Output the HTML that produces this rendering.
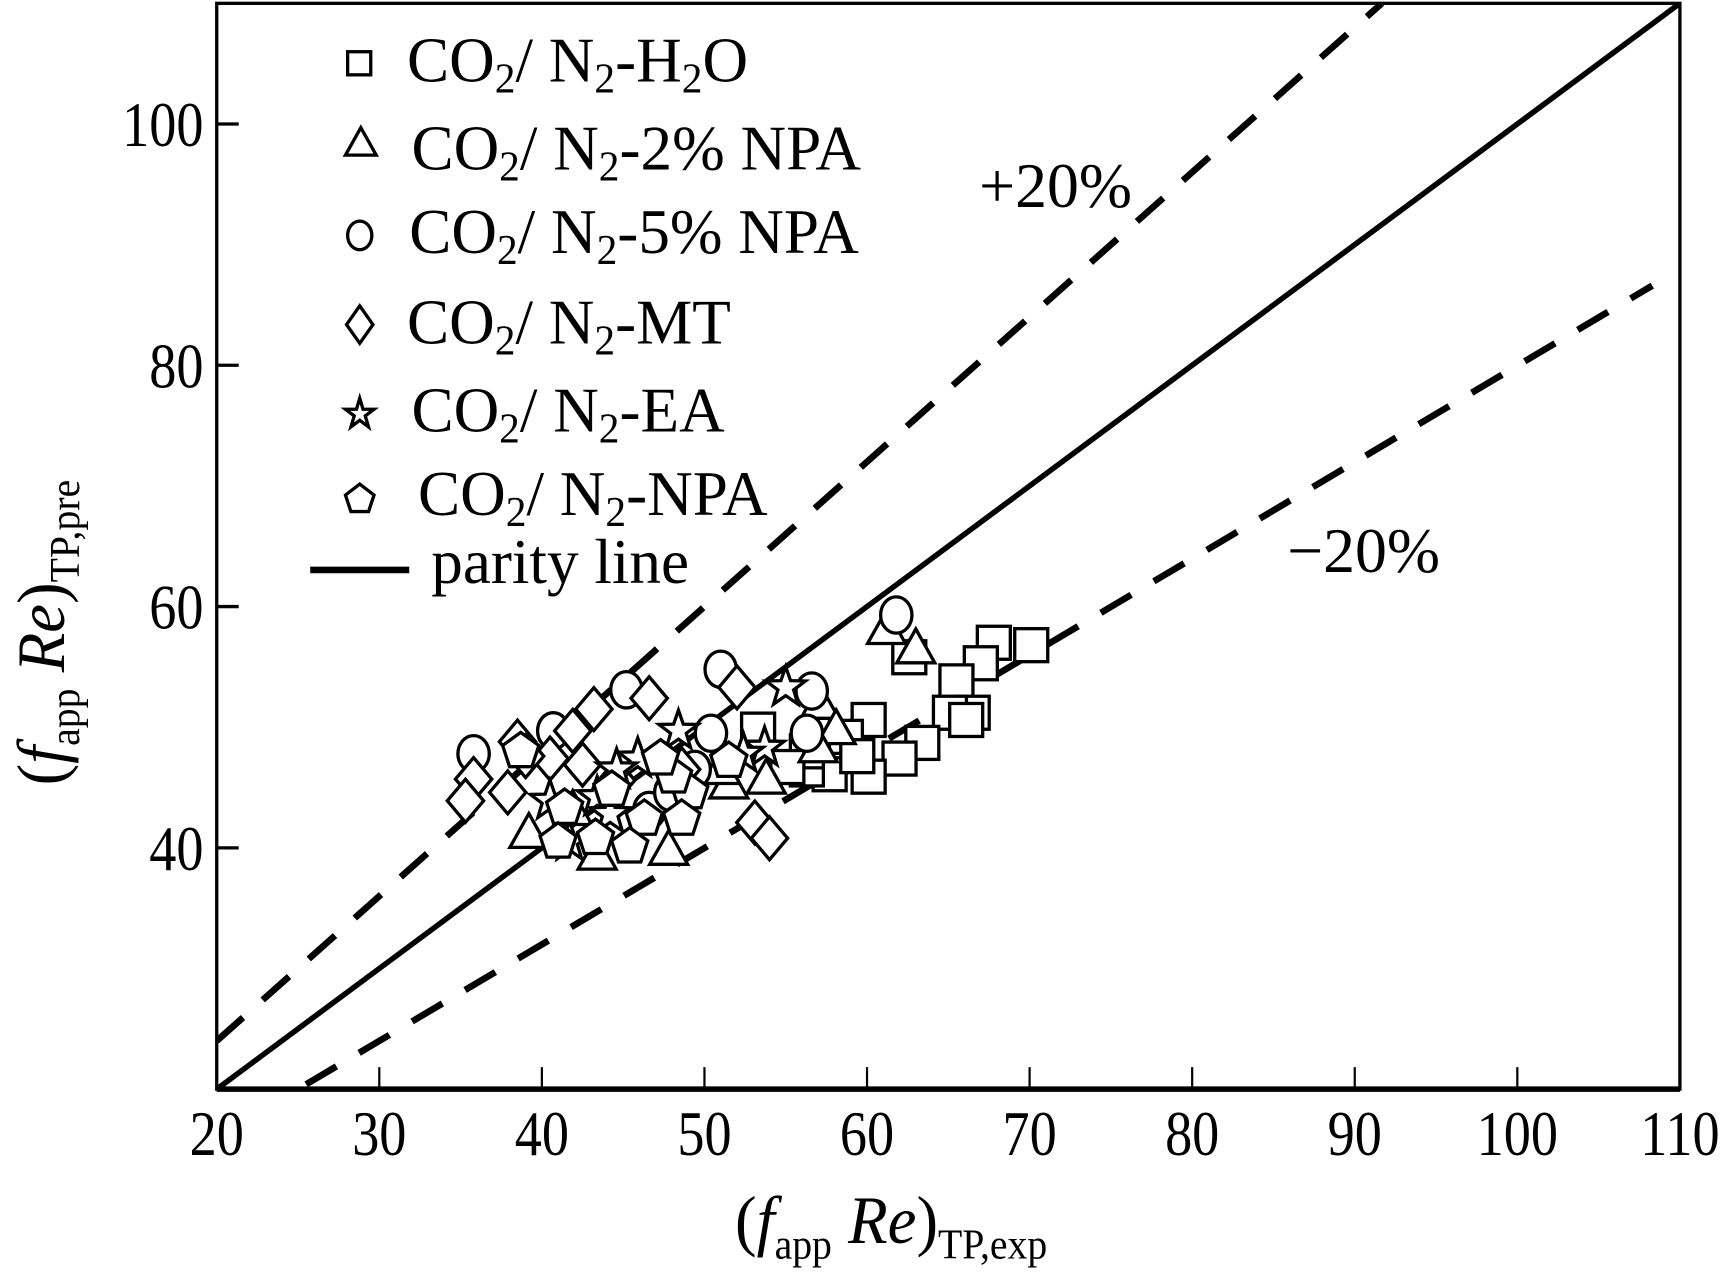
<!DOCTYPE html>
<html><head><meta charset="utf-8"><style>
html,body{margin:0;padding:0;background:#fff;}
svg{display:block;}
text{font-family:"Liberation Serif",serif;fill:#000;}
</style></head><body>
<svg id="chart" width="1725" height="1274" viewBox="0 0 1568 1158" xmlns="http://www.w3.org/2000/svg">
<defs><clipPath id="clip"><rect x="197" y="3" width="1330" height="987"/></clipPath></defs>
<g id="plot"></g>
</svg>
<script>
const xTicks=[20,30,40,50,60,70,80,90,100,110];
const yTicks=[40,60,80,100];
const h2oX=[70.1,67.8,67.0,65.5,66.5,65.1,66.1,63.4,62.0,60.1,60.1,58.7,57.7,56.3,56.3,55.1,53.3,62.6,59.4];
const h2oY=[56.8,57.0,55.3,53.8,51.2,51.2,50.6,48.7,47.4,45.9,50.6,49.2,46.1,46.5,48.0,46.7,49.8,55.8,47.6];
const npa2X=[61.2,63.0,57.1,58.1,57.0,53.8,51.5,47.8,43.4,39.2,41.9,51.0];
const npa2Y=[58.1,56.5,51.9,49.8,48.3,45.7,45.3,39.8,39.4,41.2,43.1,46.5];
const npa5X=[61.8,51.0,56.6,56.3,50.4,45.2,40.7,35.8,49.4,46.6,47.9];
const npa5Y=[59.3,54.8,53.0,49.5,49.5,53.1,49.7,47.8,46.5,43.1,44.6];
const mtX=[46.6,52.0,43.2,41.9,38.5,35.8,35.3,37.9,40.5,42.5,44.6,53.1,54.0,39.0,48.6];
const mtY=[52.4,53.3,51.5,49.7,48.8,45.7,43.9,44.6,47.4,46.9,45.6,42.1,40.8,47.6,46.5];
const eaX=[55.0,48.4,45.9,44.6,53.7,52.4,40.5,41.7,43.4,44.2];
const eaY=[53.3,49.7,47.4,46.5,48.3,47.8,43.9,40.5,44.2,42.8];
const npaX=[51.5,49.1,48.1,46.3,48.6,45.4,43.3,41.4,38.7,44.3,47.3,41.0];
const npaY=[47.2,44.6,45.9,42.4,42.4,40.1,40.8,43.3,48.0,44.8,47.4,40.5];

const NS='http://www.w3.org/2000/svg';
const svg=document.getElementById('chart');
const plot=document.getElementById('plot');
const X0=197,X1=1527,Y0=990,Y1=3,DMIN=20,DMAX=110;
function sx(v){return X0+(v-DMIN)/(DMAX-DMIN)*(X1-X0);}
function sy(v){return Y0-(v-DMIN)/(DMAX-DMIN)*(Y0-Y1);}
function mk(tag,attrs,parent){const e=document.createElementNS(NS,tag);for(const k in attrs)e.setAttribute(k,attrs[k]);(parent||svg).appendChild(e);return e;}

const lines=mk('g',{'clip-path':'url(#clip)'},plot);
let l=mk('line',{x1:sx(20),y1:sy(20),x2:sx(110),y2:sy(110),stroke:'#000','stroke-width':5},lines);


l=mk('line',{x1:sx(20),y1:sy(24),x2:sx(110/1.2),y2:sy(110),stroke:'#000','stroke-width':6,'stroke-dasharray':'32 24'},lines);


l=mk('line',{x1:sx(25.5),y1:sy(20.4),x2:sx(108.3),y2:sy(86.6),stroke:'#000','stroke-width':6,'stroke-dasharray':'32 24'},lines);



function marker(type,cx,cy,g,s){
  s=s||15;let e;
  const st={fill:'#fff',stroke:'#000','stroke-width':3};
  if(type==='sq'){e=mk('rect',Object.assign({x:cx-s,y:cy-s,width:2*s,height:2*s},st),g);}
  else if(type==='tri'){e=mk('polygon',Object.assign({points:`${cx},${cy-s*1.2} ${cx+s*1.15},${cy+s*0.85} ${cx-s*1.15},${cy+s*0.85}`},st),g);}
  else if(type==='cir'){e=mk('ellipse',Object.assign({cx:cx,cy:cy,rx:s*0.95,ry:s*1.1},st),g);}
  else if(type==='dia'){e=mk('polygon',Object.assign({points:`${cx},${cy-s*1.3} ${cx+s*1.1},${cy} ${cx},${cy+s*1.3} ${cx-s*1.1},${cy}`},st),g);}
  else if(type==='star'){let p=[];for(let i=0;i<10;i++){const r=i%2?s*0.5:s*1.25;const a=-Math.PI/2+i*Math.PI/5;p.push((cx+r*Math.cos(a)).toFixed(1)+','+(cy+r*Math.sin(a)).toFixed(1));}e=mk('polygon',Object.assign({points:p.join(' ')},st),g);}
  else {let p=[];for(let i=0;i<5;i++){const a=-Math.PI/2+i*2*Math.PI/5;p.push((cx+s*1.15*Math.cos(a)).toFixed(1)+','+(cy+s*1.15*Math.sin(a)).toFixed(1));}e=mk('polygon',Object.assign({points:p.join(' ')},st),g);}
  return e;
}
const series=[['sq',h2oX,h2oY,'h2o'],['tri',npa2X,npa2Y,'npa2'],['cir',npa5X,npa5Y,'npa5'],['dia',mtX,mtY,'mt'],['star',eaX,eaY,'ea'],['pent',npaX,npaY,'npa']];
series.forEach(sr=>{
  const g=mk('g',{},plot);
  
  
  sr[1].forEach((v,i)=>{
    const e=marker(sr[0],sx(v),sy(sr[2][i]),g);
    
    
  });
});

const fr=mk('rect',{x:X0,y:Y1,width:X1-X0,height:Y0-Y1,fill:'none',stroke:'#000','stroke-width':3});


mk('line',{x1:X0,y1:Y0,x2:X1,y2:Y0,stroke:'#000','stroke-width':5});
xTicks.forEach(t=>{
  if(t>20&&t<110){const tk=mk('line',{x1:sx(t),y1:Y0,x2:sx(t),y2:Y0-20,stroke:'#000','stroke-width':2});
  
  }
  const tx=mk('text',{x:0,y:0,'font-size':58,'text-anchor':'middle',transform:`translate(${sx(t)},${Y0+60}) scale(0.85,1)`});
  tx.textContent=t;
  
  
});
yTicks.forEach(t=>{
  const tk=mk('line',{x1:X0,y1:sy(t),x2:X0+20,y2:sy(t),stroke:'#000','stroke-width':3});
  
  
  const tx=mk('text',{x:0,y:0,'font-size':58,'text-anchor':'end',transform:`translate(${X0-12},${sy(t)+20}) scale(0.85,1)`});
  tx.textContent=t;
  
  
});
</script>
<svg style="position:absolute;left:0;top:0" width="1725" height="1274" viewBox="0 0 1568 1158" xmlns="http://www.w3.org/2000/svg">
<g fill="#fff" stroke="#000" stroke-width="3">
  <rect x="316" y="47" width="21" height="21"/>
  <polygon points="328,116 342,141 314,141"/>
  <ellipse cx="327" cy="214" rx="11" ry="13"/>
  <polygon points="327,278 339,295 327,312 315,295"/>
  <polygon points="327,362 330,372 340,372 332,378 335,388 327,382 319,388 322,378 314,372 324,372"/>
  <polygon points="327,440 340,450 335,465 319,465 314,450"/>
  <line x1="282" y1="518" x2="372" y2="518" stroke-width="6"/>
</g>
<g font-family="Liberation Serif, serif" font-size="58">
  <text transform="translate(370,74) scale(0.99,1)">CO<tspan font-size="38" dy="10">2</tspan><tspan dy="-10">/ N</tspan><tspan font-size="38" dy="10">2</tspan><tspan dy="-10">-H</tspan><tspan font-size="38" dy="10">2</tspan><tspan dy="-10">O</tspan></text>
  <text transform="translate(374,154) scale(0.99,1)">CO<tspan font-size="38" dy="10">2</tspan><tspan dy="-10">/ N</tspan><tspan font-size="38" dy="10">2</tspan><tspan dy="-10">-2% NPA</tspan></text>
  <text transform="translate(372,230) scale(0.99,1)">CO<tspan font-size="38" dy="10">2</tspan><tspan dy="-10">/ N</tspan><tspan font-size="38" dy="10">2</tspan><tspan dy="-10">-5% NPA</tspan></text>
  <text transform="translate(370,312) scale(0.99,1)">CO<tspan font-size="38" dy="10">2</tspan><tspan dy="-10">/ N</tspan><tspan font-size="38" dy="10">2</tspan><tspan dy="-10">-MT</tspan></text>
  <text transform="translate(374,392) scale(0.99,1)">CO<tspan font-size="38" dy="10">2</tspan><tspan dy="-10">/ N</tspan><tspan font-size="38" dy="10">2</tspan><tspan dy="-10">-EA</tspan></text>
  <text transform="translate(380,468) scale(0.99,1)">CO<tspan font-size="38" dy="10">2</tspan><tspan dy="-10">/ N</tspan><tspan font-size="38" dy="10">2</tspan><tspan dy="-10">-NPA</tspan></text>
  <text transform="translate(392,530) scale(0.99,1)">parity line</text>
  <text transform="translate(890,188) scale(1,1)">+20%</text>
  <text transform="translate(1170,520) scale(1,1)">−20%</text>
  <text text-anchor="middle" font-size="62" transform="translate(810,1130) scale(0.95,1)">(<tspan font-style="italic">f</tspan><tspan font-size="38" dy="14">app</tspan><tspan dy="-14" font-style="italic"> Re</tspan>)<tspan font-size="38" dy="14">TP,exp</tspan></text>
  <text text-anchor="middle" font-size="62" transform="translate(58,575) rotate(-90) scale(0.95,1)">(<tspan font-style="italic">f</tspan><tspan font-size="38" dy="14">app</tspan><tspan dy="-14" font-style="italic"> Re</tspan>)<tspan font-size="38" dy="14">TP,pre</tspan></text>
</g>
</svg>
</body></html>
